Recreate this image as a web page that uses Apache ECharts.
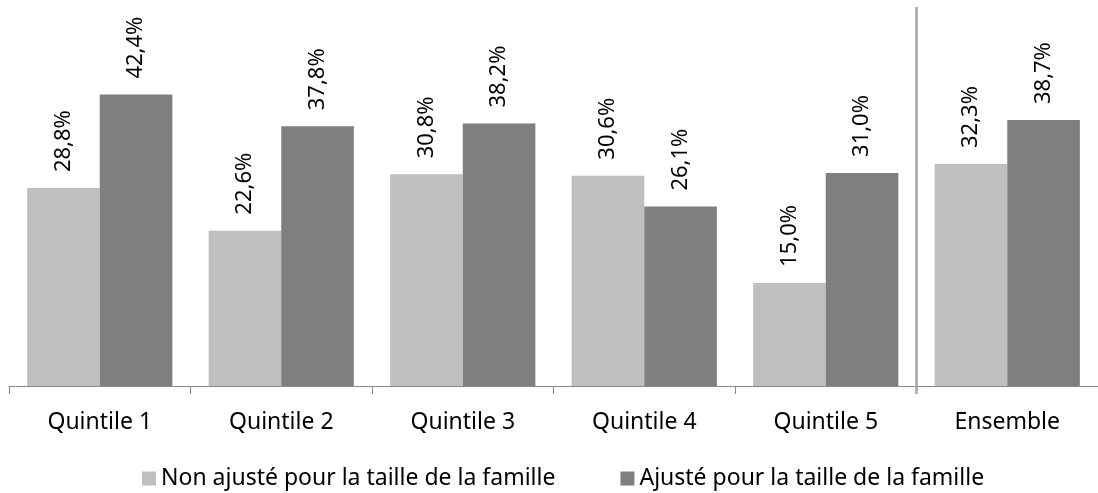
<!DOCTYPE html>
<html>
<head>
<meta charset="utf-8">
<script src="https://cdn.jsdelivr.net/npm/echarts@6/dist/echarts.min.js"></script>
<style>
html,body{margin:0;padding:0;background:#fff;}
#chart{width:1098px;height:493px;}
</style>
</head>
<body>
<div id="chart"></div>
<script>
const categories = ['Quintile 1', 'Quintile 2', 'Quintile 3', 'Quintile 4', 'Quintile 5', 'Ensemble'];
const seriesNames = ['Non ajusté pour la taille de la famille', 'Ajusté pour la taille de la famille'];
const nonAjuste = [28.8, 22.6, 30.8, 30.6, 15.0, 32.3];
const ajuste = [42.4, 37.8, 38.2, 26.1, 31.0, 38.7];

const FONT = 'Noto Sans';
const chart = echarts.init(document.getElementById('chart'), null, {renderer: 'canvas'});

const labelCfg = {
  show: true,
  position: 'top',
  rotate: 90,
  align: 'left',
  verticalAlign: 'middle',
  distance: 16,
  color: '#000',
  fontFamily: FONT,
  fontSize: 22,
  formatter: p => p.value.toFixed(1).replace('.', ',') + '%'
};

chart.setOption({
  animation: false,
  textStyle: {fontFamily: FONT},
  grid: {show: false, left: 9, width: 1093, top: 8, bottom: 107, containLabel: false},
  legend: {
    data: seriesNames,
    top: 462,
    left: 137,
    itemWidth: 14,
    itemHeight: 14,
    itemGap: 65,
    icon: 'rect',
    textStyle: {fontFamily: FONT, fontSize: 23, color: '#000'}
  },
  xAxis: {
    type: 'category',
    data: categories,
    axisLine: {lineStyle: {color: '#888', width: 1}},
    axisTick: {show: true, length: 8, lineStyle: {color: '#888'}},
    axisLabel: {color: '#000', fontFamily: FONT, fontSize: 23, margin: 25},
    splitLine: {show: false}
  },
  yAxis: {
    type: 'value',
    position: 'right',
    min: 0,
    max: 55,
    show: false,
    axisLine: {show: false},
    axisTick: {show: false},
    axisLabel: {show: false},
    splitLine: {show: false}
  },
  series: [
    {
      name: seriesNames[0],
      type: 'bar',
      data: nonAjuste,
      barGap: '0%',
      barCategoryGap: '20%',
      itemStyle: {color: '#bfbfbf'},
      label: labelCfg
    },
    {
      name: seriesNames[1],
      type: 'bar',
      data: ajuste,
      barGap: '0%',
      barCategoryGap: '20%',
      itemStyle: {color: '#7f7f7f'},
      label: labelCfg
    }
  ]
});

// Separator between the quintiles and "Ensemble", positioned from the axis scale
const xA = chart.convertToPixel({xAxisIndex: 0}, categories[4]);
const xB = chart.convertToPixel({xAxisIndex: 0}, categories[5]);
const sepX = (xA + xB) / 2;
const yTop = chart.convertToPixel({yAxisIndex: 0}, 55);
const yBase = chart.convertToPixel({yAxisIndex: 0}, 0);
chart.setOption({
  graphic: [{
    type: 'line',
    silent: true,
    z: 10,
    shape: {x1: sepX, y1: yTop - 1, x2: sepX, y2: yBase + 8},
    style: {stroke: '#a6a6a6', lineWidth: 2.5}
  }]
});
</script>
</body>
</html>
